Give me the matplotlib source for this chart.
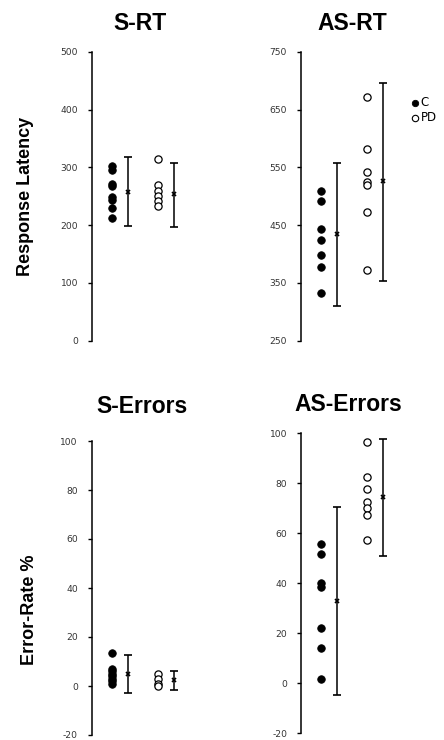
import matplotlib
matplotlib.use("Agg")
import matplotlib.pyplot as plt
import numpy as np

# ---------------- data ----------------
titles = ["S-RT", "AS-RT", "S-Errors", "AS-Errors"]
ylabels = ["Response Latency", "Error-Rate %"]
groups = ["C", "PD"]

srt_c = [302, 295, 271, 267, 248, 244, 230, 212]
srt_pd = [314, 269, 259, 250, 241, 233]
srt_mean = [258, 253]
srt_low = [199, 197]
srt_high = [317, 307]

asrt_c = [509, 492, 444, 425, 399, 377, 333]
asrt_pd = [671, 582, 542, 524, 519, 473, 372]
asrt_mean = [434, 526]
asrt_low = [310, 353]
asrt_high = [558, 695]

serr_c = [13.3, 7, 6, 5, 4, 3, 2, 1]
serr_pd = [5, 3, 1, 0]
serr_mean = [4.9, 2.5]
serr_low = [-3.0, -1.5]
serr_high = [12.5, 6.0]

aserr_c = [55.9, 51.6, 40.3, 38.7, 22.3, 14.3, 1.6]
aserr_pd = [96.4, 82.7, 77.7, 72.4, 70.0, 67.3, 57.2]
aserr_mean = [33.1, 74.7]
aserr_low = [-4.7, 51.1]
aserr_high = [70.5, 97.7]

ticks_srt = [0, 100, 200, 300, 400, 500]
ticks_asrt = [250, 350, 450, 550, 650, 750]
ticks_err = [-20, 0, 20, 40, 60, 80, 100]

panels = [
    (srt_c, srt_pd, srt_mean, srt_low, srt_high, ticks_srt),
    (asrt_c, asrt_pd, asrt_mean, asrt_low, asrt_high, ticks_asrt),
    (serr_c, serr_pd, serr_mean, serr_low, serr_high, ticks_err),
    (aserr_c, aserr_pd, aserr_mean, aserr_low, aserr_high, ticks_err),
]

# ---------------- layout ----------------
W, H = 444, 740
fig = plt.figure(figsize=(W / 100, H / 100), dpi=100)
fig.patch.set_facecolor("white")

# (left px, top px, bottom px) of each y-axis spine
rects = [(92, 51.7, 340.7), (301, 51.7, 340.7), (91.7, 441, 735), (301.3, 433.3, 733.3)]
axw = 110
xpos_dots = [1.0, 3.3]
xpos_mean = [1.8, 4.1]

title_pos = [(140, 23), (352, 23), (141.7, 406.5), (348.7, 405)]
tick_font = "DejaVu Sans"
bold_font = "Liberation Sans"

for i, (cvals, pvals, means, lows, highs, ticks) in enumerate(panels):
    l, t, b = rects[i]
    ax = fig.add_axes([l / W, 1 - b / H, axw / W, (b - t) / H])
    ax.set_xlim(0, axw / 20)
    ax.set_ylim(ticks[0], ticks[-1])
    for s in ["top", "right", "bottom"]:
        ax.spines[s].set_visible(False)
    ax.spines["left"].set_linewidth(1.1)
    ax.set_xticks([])
    ax.set_yticks(ticks)
    ax.set_yticklabels([str(v) for v in ticks], fontfamily=tick_font,
                       fontsize=6.6, color="#333333")
    ax.tick_params(axis="y", length=3, width=1.0, pad=7, direction="out")
    ax.patch.set_alpha(0)

    ax.plot([xpos_dots[0]] * len(cvals), cvals, "o", ms=5.4, mfc="black",
            mec="black", mew=0.6, clip_on=False, ls="none")
    ax.plot([xpos_dots[1]] * len(pvals), pvals, "o", ms=5.2, mfc="white",
            mec="black", mew=0.9, clip_on=False, ls="none")
    for j in range(2):
        yerr = [[means[j] - lows[j]], [highs[j] - means[j]]]
        ax.errorbar([xpos_mean[j]], [means[j]], yerr=yerr, fmt="x", color="black",
                    ms=3.5, mew=1.2, elinewidth=1.1, capsize=3.2, capthick=1.1,
                    clip_on=False)

    tx, ty = title_pos[i]
    fig.text(tx / W, 1 - ty / H, titles[i], ha="center", va="center",
             fontfamily=bold_font, fontweight="bold", fontsize=16.5)

# y labels
fig.text(26 / W, 1 - 196 / H, ylabels[0], rotation=90, ha="center", va="center",
         fontfamily=bold_font, fontweight="bold", fontsize=13)
fig.text(29 / W, 1 - 610 / H, ylabels[1], rotation=90, ha="center", va="center",
         fontfamily=bold_font, fontweight="bold", fontsize=13)

# legend (manual)
leg_ax = fig.add_axes([0, 0, 1, 1])
leg_ax.set_xlim(0, W)
leg_ax.set_ylim(H, 0)
leg_ax.axis("off")
leg_ax.plot([414.5], [102.5], "o", ms=4.6, mfc="black", mec="black", mew=0.6)
leg_ax.plot([414.5], [117.5], "o", ms=4.6, mfc="white", mec="black", mew=0.8)
leg_ax.text(420.5, 102.5, groups[0], ha="left", va="center", fontfamily="DejaVu Sans",
            fontsize=8.5)
leg_ax.text(420.5, 117.5, groups[1], ha="left", va="center", fontfamily="DejaVu Sans",
            fontsize=8.5)

fig.savefig("out.png", dpi=100, facecolor="white")
